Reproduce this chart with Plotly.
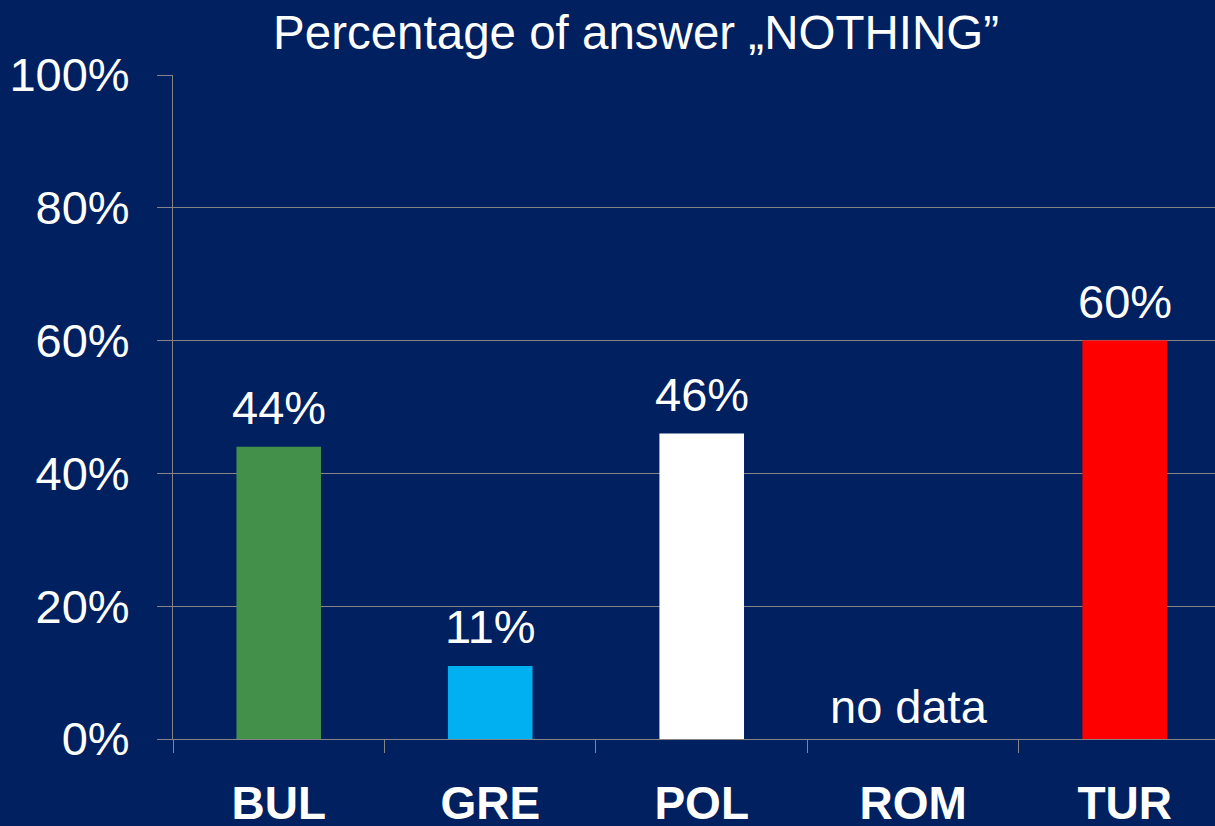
import plotly.graph_objects as go

# Share of respondents answering "NOTHING", by country
countries = ["BUL", "GRE", "POL", "ROM", "TUR"]
percent = [44, 11, 46, None, 60]
bar_colors = ["#43904B", "#00B0F0", "#FFFFFF", "#002060", "#FF0000"]
y_ticks = [0, 20, 40, 60, 80, 100]
y_tick_text = [f"{v}%" for v in y_ticks]
missing_label = "no data"

FONT = "Liberation Sans, Arial, sans-serif"
BG = "#002060"
GRID = "#858585"

fig = go.Figure(
    go.Bar(
        x=countries,
        y=percent,
        width=0.4,
        marker=dict(color=bar_colors, line=dict(width=0)),
        hoverinfo="skip",
    )
)

# value labels above each bar; a note where the value is missing
for c, v in zip(countries, percent):
    if v is None:
        fig.add_annotation(
            x=c, y=0, text=missing_label, showarrow=False,
            yanchor="bottom", yshift=4, xshift=-4,
            font=dict(family=FONT, size=47, color="white"),
        )
    else:
        fig.add_annotation(
            x=c, y=v, text=f"{v}%", showarrow=False,
            yanchor="bottom", yshift=11,
            font=dict(family=FONT, size=47, color="white"),
        )

fig.update_layout(
    width=1215,
    height=826,
    margin=dict(l=173, r=0, t=75, b=87, autoexpand=False),
    paper_bgcolor=BG,
    plot_bgcolor=BG,
    showlegend=False,
    title=dict(
        text="Percentage of answer „NOTHING”",
        x=636 / 1215, xanchor="center",
        y=1 - 32 / 826, yanchor="middle", yref="container",
        font=dict(family=FONT, size=47.5, color="white"),
    ),
    xaxis=dict(
        automargin=False,
        range=[-0.5, 4.427],
        tickson="boundaries",
        ticks="outside",
        ticklen=13,
        tickwidth=1,
        tickcolor=GRID,
        showline=True,
        linecolor=GRID,
        linewidth=1,
        showgrid=False,
        ticklabelstandoff=24,
        tickfont=dict(family=FONT, size=46, color="white", weight="bold"),
        fixedrange=True,
    ),
    yaxis=dict(
        automargin=False,
        range=[0, 100],
        tickvals=y_ticks,
        ticktext=y_tick_text,
        ticks="outside",
        ticklen=15,
        tickwidth=1,
        tickcolor=GRID,
        showline=True,
        linecolor=GRID,
        linewidth=1,
        showgrid=True,
        gridcolor=GRID,
        gridwidth=1,
        zeroline=False,
        ticklabelstandoff=18,
        tickfont=dict(family=FONT, size=47, color="white"),
        fixedrange=True,
    ),
)

fig.write_html("out.html", config={"displayModeBar": False})
